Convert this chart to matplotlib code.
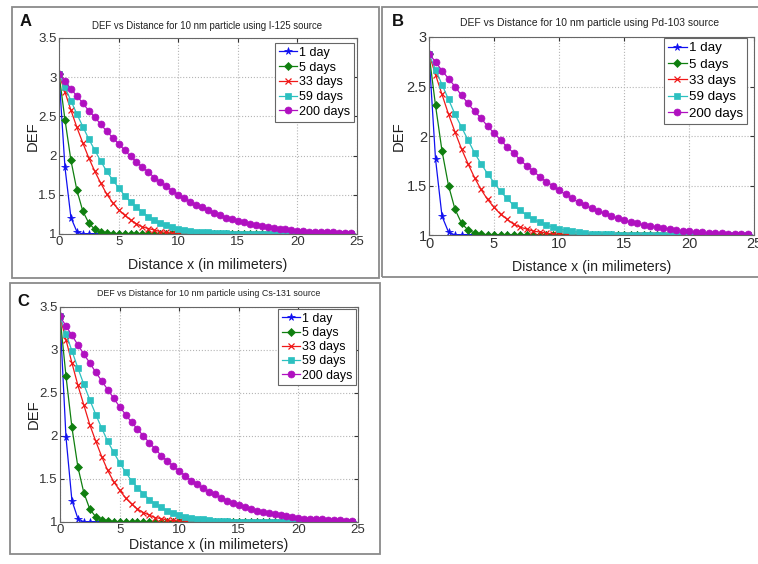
import numpy as np
import matplotlib
matplotlib.use('Agg')
import matplotlib.pyplot as plt
from matplotlib.patches import Rectangle
from matplotlib.ticker import FuncFormatter

plt.rcParams['font.family'] = ['Liberation Sans', 'DejaVu Sans']

# ---------------- data ----------------
distance_mm = np.arange(0, 25, 0.5)          # 0 ... 24.5 mm, 50 points
series_labels = ['1 day', '5 days', '33 days', '59 days', '200 days']
x_ticks = [0, 5, 10, 15, 20, 25]

# Panel A: I-125
a_1day = [3.04, 1.85, 1.21, 1.03, 1.00, 1.00, 1.00, 1.00, 1.00, 1.00,
          1.00, 1.00, 1.00, 1.00, 1.00, 1.00, 1.00, 1.00, 1.00, 1.00,
          1.00, 1.00, 1.00, 1.00, 1.00, 1.00, 1.00, 1.00, 1.00, 1.00,
          1.00, 1.00, 1.00, 1.00, 1.00, 1.00, 1.00, 1.00, 1.00, 1.00,
          1.00, 1.00, 1.00, 1.00, 1.00, 1.00, 1.00, 1.00, 1.00, 1.00]
a_5days = [3.04, 2.46, 1.94, 1.56, 1.29, 1.14, 1.06, 1.02, 1.01, 1.00,
           1.00, 1.00, 1.00, 1.00, 1.00, 1.00, 1.00, 1.00, 1.00, 1.00,
           1.00, 1.00, 1.00, 1.00, 1.00, 1.00, 1.00, 1.00, 1.00, 1.00,
           1.00, 1.00, 1.00, 1.00, 1.00, 1.00, 1.00, 1.00, 1.00, 1.00,
           1.00, 1.00, 1.00, 1.00, 1.00, 1.00, 1.00, 1.00, 1.00, 1.00]
a_33days = [3.04, 2.81, 2.58, 2.36, 2.16, 1.97, 1.80, 1.65, 1.51, 1.40,
            1.31, 1.24, 1.18, 1.13, 1.09, 1.07, 1.05, 1.03, 1.02, 1.01,
            1.01, 1.01, 1.00, 1.00, 1.00, 1.00, 1.00, 1.00, 1.00, 1.00,
            1.00, 1.00, 1.00, 1.00, 1.00, 1.00, 1.00, 1.00, 1.00, 1.00,
            1.00, 1.00, 1.00, 1.00, 1.00, 1.00, 1.00, 1.00, 1.00, 1.00]
a_59days = [3.04, 2.87, 2.70, 2.53, 2.37, 2.21, 2.07, 1.93, 1.80, 1.69,
            1.59, 1.49, 1.41, 1.34, 1.28, 1.22, 1.18, 1.14, 1.11, 1.09,
            1.07, 1.05, 1.04, 1.03, 1.02, 1.02, 1.01, 1.01, 1.01, 1.00,
            1.00, 1.00, 1.00, 1.00, 1.00, 1.00, 1.00, 1.00, 1.00, 1.00,
            1.00, 1.00, 1.00, 1.00, 1.00, 1.00, 1.00, 1.00, 1.00, 1.00]
a_200days = [3.04, 2.95, 2.85, 2.76, 2.67, 2.57, 2.49, 2.40, 2.31, 2.23,
             2.15, 2.07, 1.99, 1.92, 1.85, 1.79, 1.72, 1.66, 1.61, 1.55,
             1.50, 1.46, 1.41, 1.37, 1.34, 1.30, 1.27, 1.24, 1.21, 1.19,
             1.17, 1.15, 1.13, 1.11, 1.10, 1.09, 1.08, 1.07, 1.06, 1.05,
             1.04, 1.04, 1.03, 1.03, 1.02, 1.02, 1.02, 1.01, 1.01, 1.01]

# Panel B: Pd-103
b_1day = [2.83, 1.77, 1.19, 1.03, 1.00, 1.00, 1.00, 1.00, 1.00, 1.00,
          1.00, 1.00, 1.00, 1.00, 1.00, 1.00, 1.00, 1.00, 1.00, 1.00,
          1.00, 1.00, 1.00, 1.00, 1.00, 1.00, 1.00, 1.00, 1.00, 1.00,
          1.00, 1.00, 1.00, 1.00, 1.00, 1.00, 1.00, 1.00, 1.00, 1.00,
          1.00, 1.00, 1.00, 1.00, 1.00, 1.00, 1.00, 1.00, 1.00, 1.00]
b_5days = [2.83, 2.31, 1.85, 1.50, 1.26, 1.12, 1.05, 1.02, 1.01, 1.00,
           1.00, 1.00, 1.00, 1.00, 1.00, 1.00, 1.00, 1.00, 1.00, 1.00,
           1.00, 1.00, 1.00, 1.00, 1.00, 1.00, 1.00, 1.00, 1.00, 1.00,
           1.00, 1.00, 1.00, 1.00, 1.00, 1.00, 1.00, 1.00, 1.00, 1.00,
           1.00, 1.00, 1.00, 1.00, 1.00, 1.00, 1.00, 1.00, 1.00, 1.00]
b_33days = [2.83, 2.62, 2.42, 2.22, 2.04, 1.87, 1.72, 1.58, 1.46, 1.36,
            1.28, 1.21, 1.16, 1.11, 1.08, 1.06, 1.04, 1.03, 1.02, 1.01,
            1.01, 1.01, 1.00, 1.00, 1.00, 1.00, 1.00, 1.00, 1.00, 1.00,
            1.00, 1.00, 1.00, 1.00, 1.00, 1.00, 1.00, 1.00, 1.00, 1.00,
            1.00, 1.00, 1.00, 1.00, 1.00, 1.00, 1.00, 1.00, 1.00, 1.00]
b_59days = [2.83, 2.67, 2.52, 2.37, 2.22, 2.09, 1.96, 1.83, 1.72, 1.62,
            1.53, 1.44, 1.37, 1.30, 1.25, 1.20, 1.16, 1.13, 1.10, 1.08,
            1.06, 1.05, 1.04, 1.03, 1.02, 1.01, 1.01, 1.01, 1.01, 1.00,
            1.00, 1.00, 1.00, 1.00, 1.00, 1.00, 1.00, 1.00, 1.00, 1.00,
            1.00, 1.00, 1.00, 1.00, 1.00, 1.00, 1.00, 1.00, 1.00, 1.00]
b_200days = [2.83, 2.75, 2.66, 2.58, 2.50, 2.41, 2.33, 2.25, 2.18, 2.10,
             2.03, 1.96, 1.89, 1.83, 1.76, 1.70, 1.65, 1.59, 1.54, 1.50,
             1.45, 1.41, 1.37, 1.33, 1.30, 1.27, 1.24, 1.22, 1.19, 1.17,
             1.15, 1.13, 1.12, 1.10, 1.09, 1.08, 1.07, 1.06, 1.05, 1.04,
             1.04, 1.03, 1.03, 1.02, 1.02, 1.02, 1.01, 1.01, 1.01, 1.01]

# Panel C: Cs-131
c_1day = [3.39, 1.99, 1.25, 1.04, 1.00, 1.00, 1.00, 1.00, 1.00, 1.00,
          1.00, 1.00, 1.00, 1.00, 1.00, 1.00, 1.00, 1.00, 1.00, 1.00,
          1.00, 1.00, 1.00, 1.00, 1.00, 1.00, 1.00, 1.00, 1.00, 1.00,
          1.00, 1.00, 1.00, 1.00, 1.00, 1.00, 1.00, 1.00, 1.00, 1.00,
          1.00, 1.00, 1.00, 1.00, 1.00, 1.00, 1.00, 1.00, 1.00, 1.00]
c_5days = [3.39, 2.70, 2.10, 1.64, 1.34, 1.15, 1.06, 1.02, 1.01, 1.00,
           1.00, 1.00, 1.00, 1.00, 1.00, 1.00, 1.00, 1.00, 1.00, 1.00,
           1.00, 1.00, 1.00, 1.00, 1.00, 1.00, 1.00, 1.00, 1.00, 1.00,
           1.00, 1.00, 1.00, 1.00, 1.00, 1.00, 1.00, 1.00, 1.00, 1.00,
           1.00, 1.00, 1.00, 1.00, 1.00, 1.00, 1.00, 1.00, 1.00, 1.00]
c_33days = [3.39, 3.12, 2.85, 2.59, 2.36, 2.13, 1.94, 1.76, 1.60, 1.47,
            1.37, 1.28, 1.21, 1.15, 1.11, 1.08, 1.05, 1.04, 1.02, 1.02,
            1.01, 1.01, 1.00, 1.00, 1.00, 1.00, 1.00, 1.00, 1.00, 1.00,
            1.00, 1.00, 1.00, 1.00, 1.00, 1.00, 1.00, 1.00, 1.00, 1.00,
            1.00, 1.00, 1.00, 1.00, 1.00, 1.00, 1.00, 1.00, 1.00, 1.00]
c_59days = [3.39, 3.19, 2.99, 2.79, 2.60, 2.42, 2.25, 2.09, 1.94, 1.81,
            1.69, 1.58, 1.48, 1.40, 1.33, 1.26, 1.21, 1.17, 1.13, 1.10,
            1.08, 1.06, 1.05, 1.03, 1.03, 1.02, 1.01, 1.01, 1.01, 1.00,
            1.00, 1.00, 1.00, 1.00, 1.00, 1.00, 1.00, 1.00, 1.00, 1.00,
            1.00, 1.00, 1.00, 1.00, 1.00, 1.00, 1.00, 1.00, 1.00, 1.00]
c_200days = [3.39, 3.28, 3.17, 3.06, 2.95, 2.85, 2.74, 2.64, 2.54, 2.44,
             2.34, 2.25, 2.16, 2.08, 2.00, 1.92, 1.85, 1.77, 1.71, 1.65,
             1.59, 1.54, 1.48, 1.44, 1.39, 1.35, 1.32, 1.28, 1.25, 1.22,
             1.20, 1.17, 1.15, 1.13, 1.12, 1.10, 1.09, 1.08, 1.07, 1.06,
             1.05, 1.04, 1.04, 1.03, 1.03, 1.02, 1.02, 1.02, 1.01, 1.01]

titles = ['DEF vs Distance for 10 nm particle using I-125 source',
          'DEF vs Distance for 10 nm particle using Pd-103 source',
          'DEF vs Distance for 10 nm particle using Cs-131 source']
panel_letters = ['A', 'B', 'C']
y_ticks_a = [1, 1.5, 2, 2.5, 3, 3.5]
y_ticks_b = [1, 1.5, 2, 2.5, 3]
y_ticks_c = [1, 1.5, 2, 2.5, 3, 3.5]

# ---------------- style ----------------
W, H = 758, 564
styles = [dict(color='#1010f0', marker='*', ms=5.5),
          dict(color='#0f7f0f', marker='D', ms=3.8),
          dict(color='#f01818', marker='x', ms=3.8, mew=0.9),
          dict(color='#2cc0c0', marker='s', ms=4.5),
          dict(color='#b010c0', marker='o', ms=5.0)]


def fig_rect(l, t, r, b):
    return [l / W, 1 - b / H, (r - l) / W, (b - t) / H]


fig = plt.figure(figsize=(W / 100, H / 100), dpi=100)

boxes = [(12, 7, 379, 278), (382, 7, 760, 277), (10, 283, 380, 554)]
for (l, t, r, b) in boxes:
    fig.patches.append(Rectangle((l / W, 1 - b / H), (r - l) / W, (b - t) / H,
                                 transform=fig.transFigure, fill=False,
                                 edgecolor='#8a8a8a', linewidth=1.3))

panels = [
    dict(rect=(59, 38, 357, 234), data=[a_1day, a_5days, a_33days, a_59days, a_200days],
         ylim=(1, 3.5), yticks=y_ticks_a, title_xy=(207, 26), letter_xy=(26, 21),
         tfs=6.95, fs=9.5, lfs=9.0, lsp=0.22, leg_anchor=(354, 43),
         ylab_x=40, xlab_top=258),
    dict(rect=(429, 37, 754, 235), data=[b_1day, b_5days, b_33days, b_59days, b_200days],
         ylim=(1, 3), yticks=y_ticks_b, title_xy=(590, 23), letter_xy=(398, 21),
         tfs=7.5, fs=10.5, lfs=9.6, lsp=0.3, leg_anchor=(747, 38),
         ylab_x=406, xlab_top=260),
    dict(rect=(60, 307, 358, 522), data=[c_1day, c_5days, c_33days, c_59days, c_200days],
         ylim=(1, 3.5), yticks=y_ticks_c, title_xy=(209, 294), letter_xy=(23, 301),
         tfs=6.4, fs=9.5, lfs=8.9, lsp=0.18, leg_anchor=(356, 309),
         ylab_x=41, xlab_top=538),
]

fmt = FuncFormatter(lambda v, p: '%g' % v)

for i, p in enumerate(panels):
    l, t, r, b = p['rect']
    ax = fig.add_axes(fig_rect(l, t, r, b))
    for series, lab, st in zip(p['data'], series_labels, styles):
        ax.plot(distance_mm, series, label=lab, lw=0.9, color=st['color'],
                marker=st['marker'], ms=st['ms'], mew=st.get('mew', 0.5),
                mec=st['color'], mfc=st['color'])
    ax.set_xlim(0, 25)
    ax.set_ylim(*p['ylim'])
    ax.set_xticks(x_ticks)
    ax.set_yticks(p['yticks'])
    ax.xaxis.set_major_formatter(fmt)
    ax.yaxis.set_major_formatter(fmt)
    ax.grid(True, linestyle=':', color='#b5b5b5', linewidth=0.8)
    ax.tick_params(direction='in', top=True, right=True, length=3,
                   labelsize=p['fs'], pad=1.5, colors='#333333')
    for s in ax.spines.values():
        s.set_color('#666666')
        s.set_linewidth(0.8)
    ax.set_xlabel('Distance x (in milimeters)', fontsize=10.2, color='#222222')
    ax.set_ylabel('DEF', fontsize=10.6, color='#222222')
    ax.xaxis.set_label_coords(0.5, (b - p['xlab_top']) / (b - t))
    ax.yaxis.set_label_coords((p['ylab_x'] - l) / (r - l), 0.5)
    lx_, ly_ = p['leg_anchor']
    leg = ax.legend(loc='upper right',
                    bbox_to_anchor=((lx_ - l) / (r - l), (b - ly_) / (b - t)),
                    fontsize=p['lfs'], numpoints=1,
                    handlelength=1.45, handletextpad=0.15, borderpad=0.3,
                    labelspacing=p['lsp'], borderaxespad=0.0, fancybox=False,
                    framealpha=1, edgecolor='#666666')
    leg.get_frame().set_linewidth(0.8)
    tx, ty = p['title_xy']
    fig.text(tx / W, 1 - ty / H, titles[i], ha='center', va='center',
             fontsize=p['tfs'], color='#222222')
    lx, ly = p['letter_xy']
    fig.text(lx / W, 1 - ly / H, panel_letters[i], ha='center', va='center',
             fontsize=12, fontweight='bold', color='#111111')

fig.savefig('out.png', dpi=100)
